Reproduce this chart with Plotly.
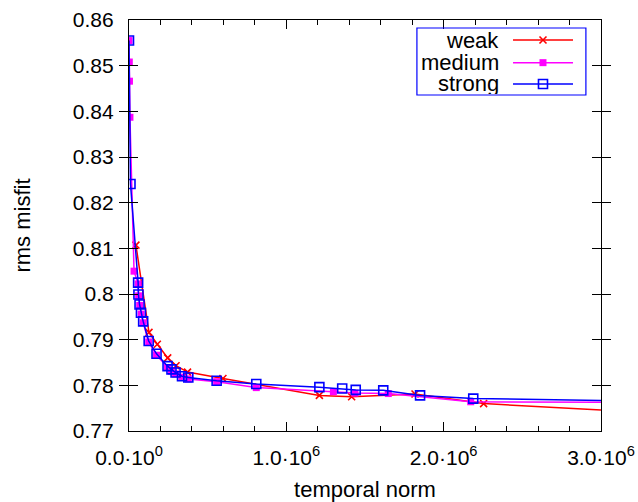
import plotly.graph_objects as go

# ---- data ----
weak_x = [44e3, 127e3, 180e3, 246e3, 299e3, 372e3, 597e3, 1.21e6, 1.415e6, 1.818e6, 2.254e6, 3.2e6]
weak_y = [0.8107, 0.7916, 0.7890, 0.7860, 0.7843, 0.7829, 0.7815, 0.7778, 0.7775, 0.7781, 0.7760, 0.7742]

medium_x = [0, 2e3, 3e3, 6e3, 32e3, 58e3, 61e3, 68e3, 77e3, 90e3, 125e3, 175e3, 245e3, 270e3,
            296e3, 337e3, 377e3, 557e3, 809e3, 1.299e6, 1.436e6, 1.648e6, 2.172e6, 3.2e6]
medium_y = [0.8555, 0.8508, 0.8466, 0.8387, 0.8050, 0.8022, 0.7996, 0.7975, 0.7956, 0.7937, 0.7895,
            0.7866, 0.7839, 0.7831, 0.7825, 0.7818, 0.7814, 0.7808, 0.7795, 0.7786, 0.7783, 0.7782,
            0.7764, 0.7763]

strong_x = [0, 9.5e3, 58e3, 60e3, 67e3, 76e3, 90e3, 125e3, 175e3, 245e3, 270e3, 296e3, 337e3,
            377e3, 557e3, 809e3, 1.21e6, 1.355e6, 1.441e6, 1.616e6, 1.850e6, 2.188e6, 3.2e6]
strong_y = [0.8555, 0.8241, 0.8025, 0.7999, 0.7977, 0.7959, 0.7940, 0.7897, 0.7869, 0.7842, 0.7835,
            0.7828, 0.7820, 0.7817, 0.7810, 0.7803, 0.7796, 0.7793, 0.7790, 0.7789, 0.7778, 0.7771,
            0.7766]

series_names = ["weak", "medium", "strong"]
x_tickvals = [0, 1e6, 2e6, 3e6]
x_ticktext = ["0.0·10<sup>0</sup>", "1.0·10<sup>6</sup>", "2.0·10<sup>6</sup>", "3.0·10<sup>6</sup>"]
y_tickvals = [0.77, 0.78, 0.79, 0.80, 0.81, 0.82, 0.83, 0.84, 0.85, 0.86]
y_ticktext = ["0.77", "0.78", "0.79", "0.8", "0.81", "0.82", "0.83", "0.84", "0.85", "0.86"]

FONT = "Liberation Sans, Arial, sans-serif"
FS = 21
FS_TITLE = 22

styles = [
    dict(color="#ff0000", marker=dict(symbol="x-thin", size=7, line=dict(color="#ff0000", width=1.6))),
    dict(color="#ff00ff", marker=dict(symbol="square", size=7, color="#ff00ff", line=dict(width=0))),
    dict(color="#0000ff", marker=dict(symbol="square-open", size=9, color="#0000ff", line=dict(color="#0000ff", width=1.6))),
]

fig = go.Figure()
for name, xs, ys, st in zip(series_names, [weak_x, medium_x, strong_x], [weak_y, medium_y, strong_y], styles):
    fig.add_trace(go.Scatter(x=xs, y=ys, mode="lines+markers", name=name,
                             line=dict(color=st["color"], width=1.5), marker=st["marker"],
                             cliponaxis=True, showlegend=False))

# top axis carrying the mirrored minor ticks
fig.add_trace(go.Scatter(x=[None], y=[None], xaxis="x3", yaxis="y", showlegend=False, hoverinfo="skip"))

# ---- gnuplot-style key (text right, sample on the right) ----
rows = [0.9513, 0.8962, 0.8443]
for name, row, st in zip(series_names, rows, styles):
    fig.add_trace(go.Scatter(x=[0.8136, 0.9407], y=[row, row], mode="lines", xaxis="x2", yaxis="y2",
                             line=dict(color=st["color"], width=1.5), showlegend=False, hoverinfo="skip"))
    fig.add_trace(go.Scatter(x=[0.8771], y=[row], mode="markers", xaxis="x2", yaxis="y2",
                             marker=st["marker"], showlegend=False, hoverinfo="skip"))
    fig.add_annotation(x=0.785, y=row, xref="x2", yref="y2", text=name, showarrow=False,
                       xanchor="right", yanchor="middle", borderpad=0, height=21,
                       font=dict(family=FONT, size=FS_TITLE, color="black"))
fig.add_shape(type="rect", xref="x2", yref="y2", x0=0.610, x1=0.968, y0=0.8175, y1=0.9805,
              line=dict(color="#0000ff", width=1.2), fillcolor="rgba(0,0,0,0)")

axis_common = dict(showline=True, linecolor="black", linewidth=1.2, mirror="allticks",
                   ticks="inside", ticklen=9, tickwidth=1.2, tickcolor="black",
                   showgrid=False, zeroline=False, automargin=False,
                   tickfont=dict(family=FONT, size=FS, color="black"))

minor_x = dict(ticks="inside", ticklen=5, tickwidth=1.2, tickcolor="black", dtick=2e5, showgrid=False)

fig.update_layout(
    width=638, height=502,
    margin=dict(l=129, r=37, t=20, b=71),
    paper_bgcolor="white", plot_bgcolor="white",
    font=dict(family=FONT, size=FS, color="black"),
    showlegend=False,
    xaxis=dict(range=[0, 3e6], tickmode="array", tickvals=x_tickvals, ticktext=x_ticktext,
               minor=minor_x, ticklabelstandoff=8,
               title=dict(text="temporal norm", font=dict(family=FONT, size=FS_TITLE), standoff=13),
               **axis_common),
    xaxis3=dict(overlaying="x", side="top", range=[0, 3e6], tickmode="array", tickvals=x_tickvals,
                showticklabels=False, ticks="inside", ticklen=9, tickwidth=1.2, tickcolor="black",
                showline=False, showgrid=False, zeroline=False, minor=minor_x, fixedrange=True,
                automargin=False),
    yaxis=dict(range=[0.77, 0.86], tickmode="array", tickvals=y_tickvals, ticktext=y_ticktext,
               ticklabelstandoff=10,
               title=dict(text="rms misfit", font=dict(family=FONT, size=FS_TITLE), standoff=36),
               **axis_common),
    xaxis2=dict(overlaying="x", range=[0, 1], visible=False, fixedrange=True),
    yaxis2=dict(overlaying="y", range=[0, 1], visible=False, fixedrange=True),
)

fig.write_html("out.html")
